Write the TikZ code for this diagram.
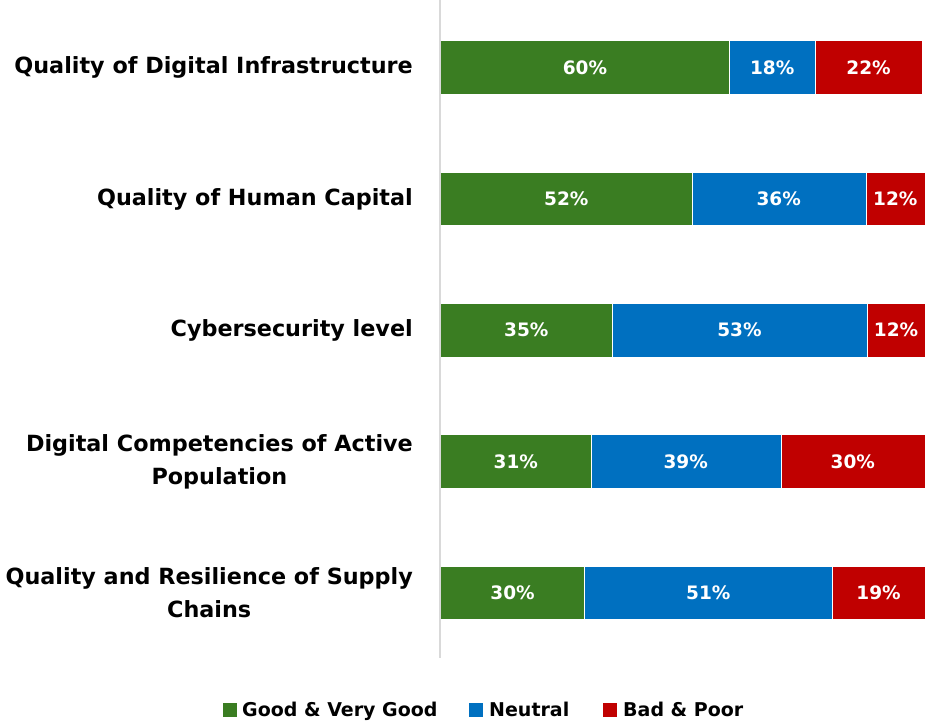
\documentclass[tikz,border=0pt]{standalone}
\usepackage{fontspec}
\setmainfont{DejaVu Sans}
\definecolor{cgood}{HTML}{3A7D22}
\definecolor{cneu}{HTML}{0070C0}
\definecolor{cbad}{HTML}{C00000}
\definecolor{caxis}{HTML}{D9D9D9}
\begin{document}
\begin{tikzpicture}[x=1pt,y=-1pt,
  pct/.style={text=white,font=\fontsize{18.5}{22}\selectfont\bfseries,inner sep=0pt},
  cat/.style={anchor=east,align=center,font=\fontsize{22.3}{33}\selectfont\bfseries,inner sep=0pt},
  leg/.style={anchor=base west,font=\fontsize{19}{22}\selectfont\bfseries,inner sep=0pt},
  sq/.style={minimum size=14pt,inner sep=0pt,anchor=west}]
\useasboundingbox[fill=white] (0,0) rectangle (925,722);
\draw[caxis,line width=2pt] (440,0) -- (440,658);
\newcommand{\mybar}[4]{%
  \fill[cgood] (441,#1) rectangle (#2,#1+52.5);
  \fill[cneu] (#2,#1) rectangle (#3,#1+52.5);
  \fill[cbad] (#3,#1) rectangle (#4,#1+52.5);
  \draw[white,line width=0.4pt] (#2,#1) -- (#2,#1+52.5) (#3,#1) -- (#3,#1+52.5);
}
\mybar{41.5}{729}{815.5}{922.3}
\mybar{172.8}{691.7}{865.7}{925}
\mybar{304}{611.7}{867.3}{925}
\mybar{435.3}{590.7}{780.7}{925}
\mybar{566.5}{584.3}{832.3}{925}
\node[pct] (a1) at (585,67.8) {60\%};
\node[pct] (a2) at (772.2,67.8) {18\%};
\node[pct] (a3) at (868.6,67.8) {22\%};
\node[pct] (b1) at (566.3,199) {52\%};
\node[pct] (b2) at (778.7,199) {36\%};
\node[pct] (b3) at (895.3,199) {12\%};
\node[pct] (c1) at (526.3,330.2) {35\%};
\node[pct] (c2) at (739.5,330.2) {53\%};
\node[pct] (c3) at (896.1,330.2) {12\%};
\node[pct] (d1) at (515.8,461.5) {31\%};
\node[pct] (d2) at (685.7,461.5) {39\%};
\node[pct] (d3) at (852.8,461.5) {30\%};
\node[pct] (e1) at (512.6,592.7) {30\%};
\node[pct] (e2) at (708.3,592.7) {51\%};
\node[pct] (e3) at (878.6,592.7) {19\%};
\node[cat] (l1) at (413,67.8) {Quality of Digital Infrastructure};
\node[cat] (l2) at (413,199) {Quality of Human Capital};
\node[cat] (l3) at (413,330.2) {Cybersecurity level};
\node[cat] (l4) at (413,461.5) {Digital Competencies of Active\\Population};
\node[cat] (l5) at (413,592.7) {Quality and Resilience of Supply\\Chains};
\node[sq,fill=cgood] (g1) at (223,710) {};
\node[leg] (g2) at (242,716.5) {Good \& Very Good};
\node[sq,fill=cneu] (n1) at (469,710) {};
\node[leg] (n2) at (489,716.5) {Neutral};
\node[sq,fill=cbad] (r1) at (603,710) {};
\node[leg] (r2) at (623,716.5) {Bad \& Poor};
\end{tikzpicture}
\end{document}
